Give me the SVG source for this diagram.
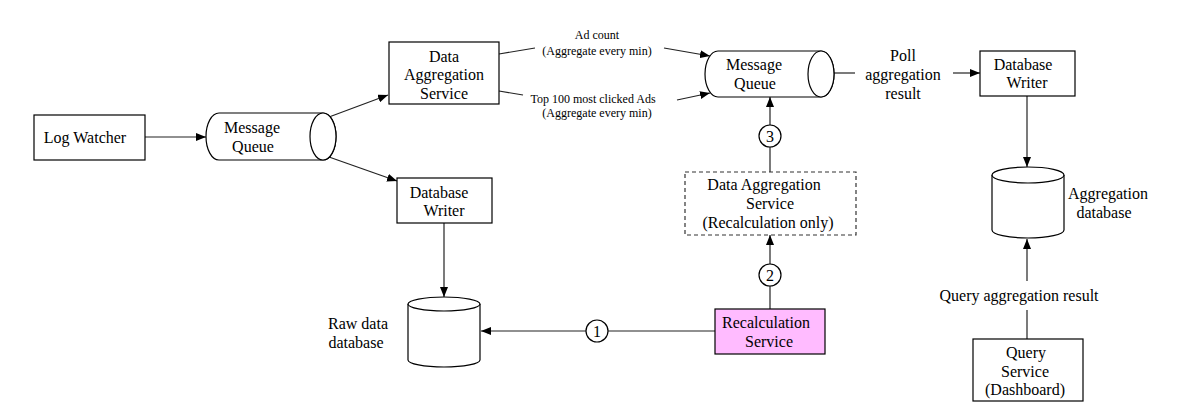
<svg xmlns="http://www.w3.org/2000/svg" width="1186" height="412" viewBox="0 0 1186 412">
<defs>
<marker id="arr" viewBox="0 0 10 8" refX="10" refY="4" markerWidth="10" markerHeight="8" markerUnits="userSpaceOnUse" orient="auto">
<path d="M0,0 L10,4 L0,8 Z" fill="#000"/>
</marker>
<style>
.box{fill:#fff;stroke:#000;stroke-width:1.2}
.dash{fill:#fff;stroke:#333;stroke-width:1.2;stroke-dasharray:4 3}
.pink{fill:#ffbbff;stroke:#000;stroke-width:1.2}
.cyl{fill:#fff;stroke:#000;stroke-width:1.2}
.t{font-family:"Liberation Serif","Times New Roman",serif;font-size:16px;fill:#000;text-anchor:middle}
.s{font-family:"Liberation Serif","Times New Roman",serif;font-size:12px;fill:#000;text-anchor:middle}
.ln{fill:none;stroke:#222;stroke-width:1.2}
.ar{fill:none;stroke:#222;stroke-width:1.2;marker-end:url(#arr)}
.c{fill:#fff;stroke:#000;stroke-width:1.2}
</style>
</defs>
<rect width="1186" height="412" fill="#fff"/>

<g id="connectors">
<line class="ar" x1="145" y1="137" x2="206" y2="137"/>
<line class="ar" x1="329" y1="117" x2="388" y2="95"/>
<line class="ar" x1="329" y1="157" x2="397" y2="181"/>
<line class="ar" x1="444" y1="223" x2="444" y2="297"/>
<line class="ln" x1="499" y1="54" x2="535" y2="48"/>
<line class="ar" x1="664" y1="48" x2="710" y2="56"/>
<line class="ln" x1="499" y1="91" x2="523" y2="95"/>
<line class="ar" x1="677" y1="100" x2="710" y2="93"/>
<line class="ln" x1="834" y1="73" x2="855" y2="73"/>
<line class="ar" x1="953" y1="73" x2="980" y2="73"/>
<line class="ar" x1="1027" y1="96" x2="1027" y2="167"/>
<line class="ln" x1="1027" y1="339" x2="1027" y2="310"/>
<line class="ar" x1="1027" y1="281" x2="1027" y2="239"/>
<line class="ar" x1="770" y1="309" x2="770" y2="235"/>
<line class="ar" x1="770" y1="172" x2="770" y2="97"/>
<line class="ar" x1="715" y1="331" x2="481" y2="331"/>
<circle class="c" cx="597" cy="331" r="11"/>
<text class="t" x="597" y="337">1</text>
<circle class="c" cx="770" cy="275" r="11"/>
<text class="t" x="770" y="281">2</text>
<circle class="c" cx="770" cy="136" r="11"/>
<text class="t" x="770" y="142">3</text>
<text class="s" x="597" y="39">Ad count</text>
<text class="s" x="597" y="55">(Aggregate every min)</text>
<text class="s" x="593" y="103">Top 100 most clicked Ads</text>
<text class="s" x="597" y="117">(Aggregate every min)</text>
<text class="t" x="903" y="61">Poll</text>
<text class="t" x="903" y="80">aggregation</text>
<text class="t" x="903" y="99">result</text>
<text class="t" x="1019" y="301">Query aggregation result</text>
</g>

<g id="log-watcher">
<rect class="box" x="34" y="115" width="111" height="45"/>
<text class="t" x="85" y="143">Log Watcher</text>
</g>

<g id="message-queue-1">
<path class="cyl" d="M219,113 L323,113 A13,23.5 0 0 1 323,160 L219,160 A13,23.5 0 0 1 219,113 Z"/>
<ellipse class="cyl" cx="323" cy="136.5" rx="13" ry="23.5"/>
<text class="t" x="252" y="133">Message</text>
<text class="t" x="253" y="152">Queue</text>
</g>

<g id="data-aggregation-service">
<rect class="box" x="389" y="42" width="110" height="62"/>
<text class="t" x="444" y="62">Data</text>
<text class="t" x="444" y="80">Aggregation</text>
<text class="t" x="444" y="99">Service</text>
</g>

<g id="database-writer-1">
<rect class="box" x="397" y="178" width="95" height="45"/>
<text class="t" x="439" y="198">Database</text>
<text class="t" x="444" y="216">Writer</text>
</g>

<g id="raw-data-database">
<path class="cyl" d="M408,304 A36,7 0 0 1 480,304 L480,360 A36,7 0 0 1 408,360 Z"/>
<path class="cyl" d="M408,304 A36,7 0 0 0 480,304"/>
<text class="t" x="358" y="329">Raw data</text>
<text class="t" x="356" y="348">database</text>
</g>

<g id="message-queue-2">
<path class="cyl" d="M718,51 L821,51 A13,23 0 0 1 821,97 L718,97 A13,23 0 0 1 718,51 Z"/>
<ellipse class="cyl" cx="821" cy="74" rx="13" ry="23"/>
<text class="t" x="754" y="70">Message</text>
<text class="t" x="755" y="89">Queue</text>
</g>

<g id="data-aggregation-recalc">
<rect class="dash" x="685" y="172" width="171" height="63"/>
<text class="t" x="764" y="190">Data Aggregation</text>
<text class="t" x="770" y="209">Service</text>
<text class="t" x="768" y="228">(Recalculation only)</text>
</g>

<g id="recalculation-service">
<rect class="pink" x="715" y="309" width="110" height="45"/>
<text class="t" x="766" y="328">Recalculation</text>
<text class="t" x="769" y="347">Service</text>
</g>

<g id="database-writer-2">
<rect class="box" x="980" y="51" width="95" height="45"/>
<text class="t" x="1023" y="70">Database</text>
<text class="t" x="1027" y="88">Writer</text>
</g>

<g id="aggregation-database">
<path class="cyl" d="M992,175 A36,8 0 0 1 1064,175 L1064,230 A36,8 0 0 1 992,230 Z"/>
<path class="cyl" d="M992,175 A36,8 0 0 0 1064,175"/>
<text class="t" x="1108" y="199">Aggregation</text>
<text class="t" x="1104" y="218">database</text>
</g>

<g id="query-service">
<rect class="box" x="973" y="339" width="110" height="62"/>
<text class="t" x="1026" y="358">Query</text>
<text class="t" x="1025" y="377">Service</text>
<text class="t" x="1025" y="395">(Dashboard)</text>
</g>
</svg>
